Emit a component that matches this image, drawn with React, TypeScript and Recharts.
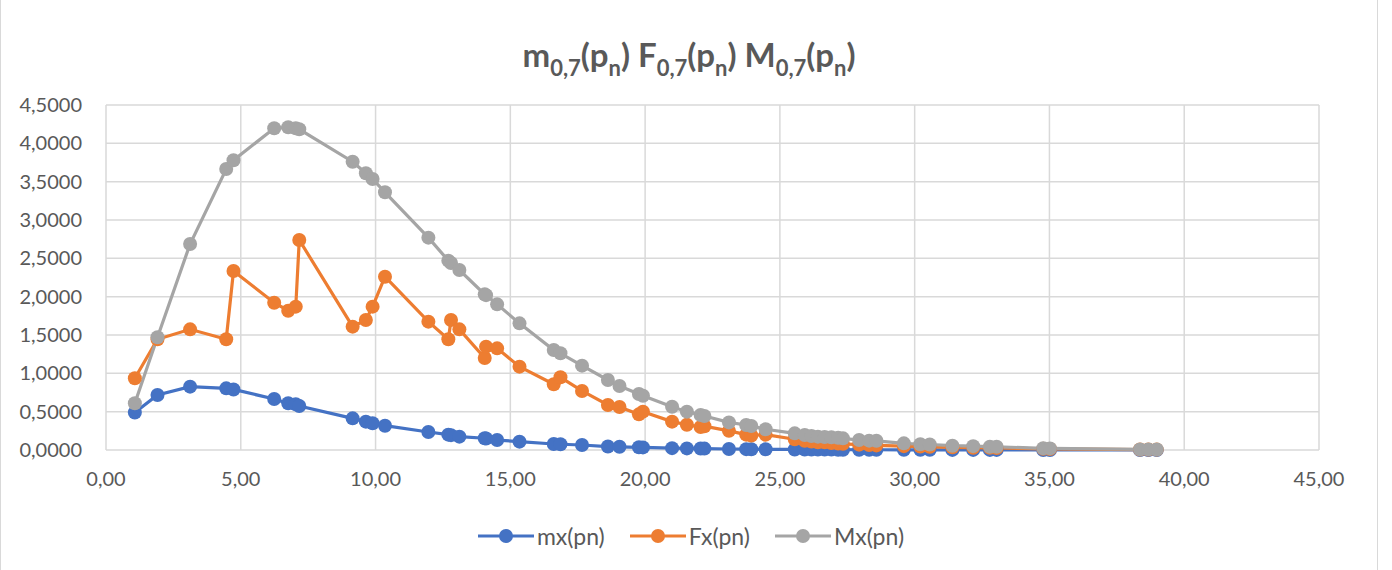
import React from "react";
import { CartesianGrid, Line, LineChart, XAxis, YAxis } from "recharts";

const pn = [
  1.07, 1.91, 3.12, 4.46, 4.73, 6.24, 6.76, 7.04, 7.17, 9.15, 9.64, 9.89, 10.35, 11.96, 12.7, 12.8, 13.11, 14.05,
  14.1, 14.51, 15.34, 16.61, 16.86, 17.66, 18.62, 19.05, 19.77, 19.92, 21.0, 21.55, 22.06, 22.2, 23.11, 23.75,
  23.94, 24.47, 25.55, 25.92, 26.17, 26.41, 26.66, 26.91, 27.16, 27.34, 27.94, 28.31, 28.58, 29.6, 30.21, 30.56,
  31.4, 32.17, 32.79, 33.04, 34.77, 35.02, 38.36, 38.67, 38.98,
];

const mxVals = [
  0.49, 0.717, 0.826, 0.804, 0.79, 0.665, 0.609, 0.596, 0.574, 0.413, 0.37, 0.348, 0.317, 0.235, 0.2, 0.194, 0.174,
  0.153, 0.15, 0.13, 0.109, 0.078, 0.075, 0.065, 0.045, 0.042, 0.035, 0.034, 0.024, 0.021, 0.019, 0.018, 0.013,
  0.011, 0.01, 0.009, 0.007, 0.006, 0.006, 0.005, 0.005, 0.005, 0.004, 0.004, 0.003, 0.003, 0.003, 0.002, 0.002,
  0.002, 0.001, 0.001, 0.001, 0.001, 0.0005, 0.0005, 0.0002, 0.0002, 0.0002,
];

const fxVals = [
  0.935, 1.444, 1.574, 1.444, 2.335, 1.921, 1.817, 1.87, 2.739, 1.609, 1.696, 1.87, 2.26, 1.674, 1.444, 1.696,
  1.574, 1.2, 1.348, 1.326, 1.087, 0.857, 0.948, 0.77, 0.587, 0.56, 0.465, 0.5, 0.37, 0.33, 0.3, 0.31, 0.25, 0.2,
  0.19, 0.2, 0.14, 0.12, 0.11, 0.1, 0.1, 0.09, 0.085, 0.08, 0.07, 0.065, 0.06, 0.05, 0.045, 0.042, 0.035, 0.03,
  0.028, 0.026, 0.015, 0.014, 0.006, 0.006, 0.005,
];

const MxVals = [
  0.609, 1.47, 2.687, 3.665, 3.78, 4.196, 4.209, 4.196, 4.183, 3.76, 3.609, 3.535, 3.361, 2.77, 2.47, 2.44, 2.348,
  2.03, 2.02, 1.9, 1.652, 1.304, 1.261, 1.1, 0.913, 0.835, 0.73, 0.708, 0.565, 0.5, 0.457, 0.443, 0.36, 0.326,
  0.313, 0.27, 0.217, 0.196, 0.183, 0.174, 0.17, 0.165, 0.16, 0.152, 0.13, 0.122, 0.12, 0.087, 0.075, 0.072,
  0.056, 0.05, 0.043, 0.042, 0.022, 0.021, 0.008, 0.008, 0.007,
];

const xTicks = [0, 5, 10, 15, 20, 25, 30, 35, 40, 45];
const yTicks = [0, 0.5, 1, 1.5, 2, 2.5, 3, 3.5, 4, 4.5];

const series = [
  { key: "mx", name: "mx(pn)", color: "#4472C4" },
  { key: "fx", name: "Fx(pn)", color: "#ED7D31" },
  { key: "Mx", name: "Mx(pn)", color: "#A5A5A5" },
];

const data = pn.map((x, i) => ({ x, mx: mxVals[i], fx: fxVals[i], Mx: MxVals[i] }));

const font = "Lato, 'Open Sans', sans-serif";
const textColor = "#595959";
const comma = (v: number, d: number) => v.toFixed(d).replace(".", ",");

// subscript that doesn't disturb the line box
const Sub = ({ children }: { children: React.ReactNode }) => (
  <span style={{ fontSize: 22, position: "relative", top: 9 }}>{children}</span>
);

export default function App() {
  return (
    <div style={{ position: "absolute", left: 0, top: 0, width: 1392, height: 570, background: "#fff", fontFamily: font }}>
      <div
        style={{
          position: "absolute",
          left: 0,
          top: 0,
          width: 1376,
          height: 570,
          borderLeft: "1px solid #d9d9d9",
          borderRight: "1px solid #d9d9d9",
        }}
      />
      <div
        style={{
          position: "absolute",
          left: 0,
          top: 36,
          width: 1378,
          textAlign: "center",
          fontSize: 33,
          lineHeight: "36px",
          fontWeight: 700,
          color: textColor,
        }}
      >
        m<Sub>0,7</Sub>(p<Sub>n</Sub>) F<Sub>0,7</Sub>(p<Sub>n</Sub>) M<Sub>0,7</Sub>(p<Sub>n</Sub>)
      </div>
      <LineChart
        width={1392}
        height={570}
        data={data}
        margin={{ top: 105, right: 73, left: 0, bottom: 90 }}
        style={{ position: "absolute", left: 0, top: 0 }}
      >
        <CartesianGrid stroke="#d9d9d9" strokeWidth={1.5} />
        <XAxis
          type="number"
          dataKey="x"
          domain={[0, 45]}
          ticks={xTicks}
          tickFormatter={(v: number) => comma(v, 2)}
          axisLine={false}
          tickLine={false}
          tickSize={0}
          tickMargin={22}
          height={30}
          tick={{ fill: textColor, fontSize: 20, fontFamily: font }}
        />
        <YAxis
          type="number"
          domain={[0, 4.5]}
          ticks={yTicks}
          tickFormatter={(v: number) => comma(v, 4)}
          axisLine={false}
          tickLine={false}
          tickSize={0}
          tickMargin={24}
          width={106}
          tick={{ fill: textColor, fontSize: 20, fontFamily: font }}
        />
        {series.map((s) => (
          <Line
            key={s.key}
            type="linear"
            dataKey={s.key}
            name={s.name}
            stroke={s.color}
            strokeWidth={3.2}
            dot={{ r: 7, fill: s.color, stroke: s.color, strokeWidth: 0 }}
            activeDot={false}
            isAnimationActive={false}
          />
        ))}
      </LineChart>
      <div
        style={{
          position: "absolute",
          left: 0,
          top: 521,
          width: 1382,
          display: "flex",
          justifyContent: "center",
          gap: 25,
          fontSize: 23,
          color: textColor,
        }}
      >
        {series.map((s) => (
          <div key={s.key} style={{ display: "flex", alignItems: "center" }}>
            <svg width={56} height={30}>
              <line x1={0} y1={15} x2={56} y2={15} stroke={s.color} strokeWidth={3.2} />
              <circle cx={28} cy={15} r={7} fill={s.color} />
            </svg>
            <span style={{ marginLeft: 3 }}>{s.name}</span>
          </div>
        ))}
      </div>
    </div>
  );
}
